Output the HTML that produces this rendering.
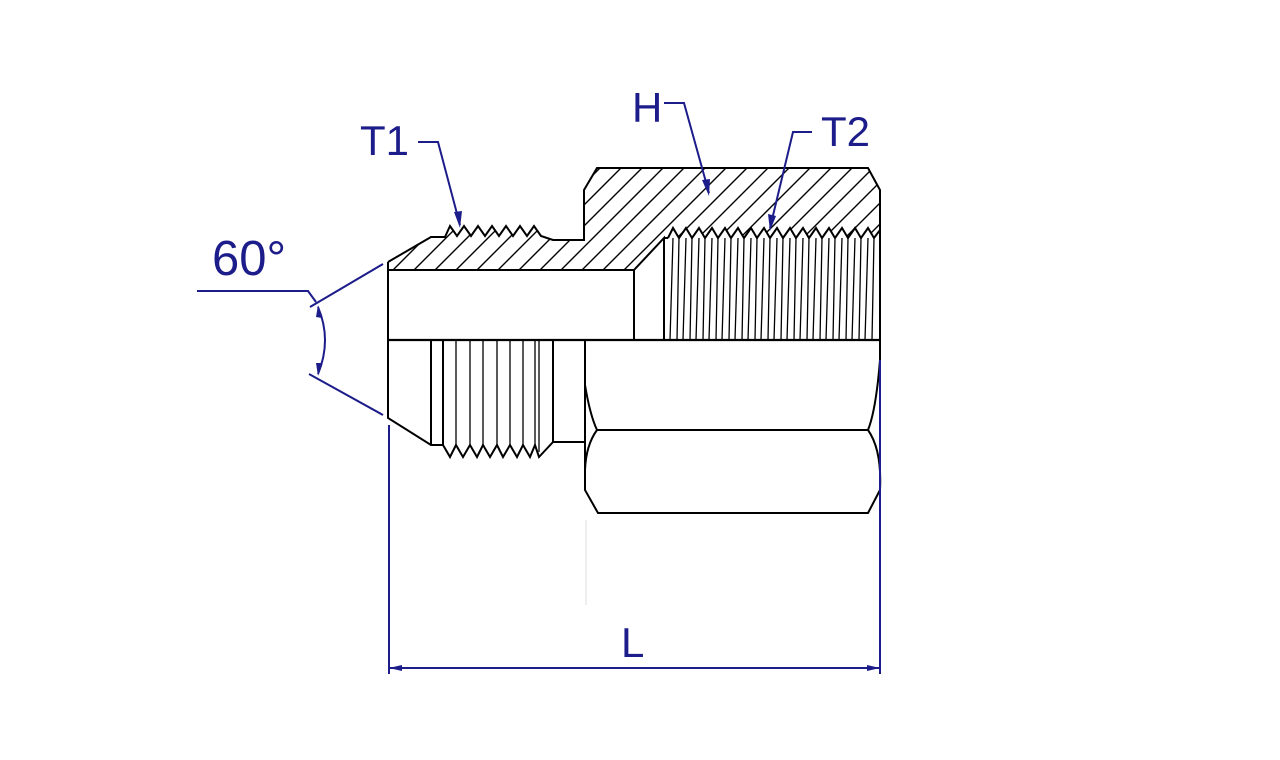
<!DOCTYPE html>
<html><head><meta charset="utf-8"><style>
html,body{margin:0;padding:0;background:#fff;width:1280px;height:760px;overflow:hidden}
svg{display:block}
text{font-family:"Liberation Sans",sans-serif;fill:#1c1c8a}
</style></head><body>
<svg width="1280" height="760" viewBox="0 0 1280 760" xmlns="http://www.w3.org/2000/svg">
<defs>
<clipPath id="hc">
<path d="M388,262 L431,237 L445,237 L450,226 L457,236 L464,226 L471,236 L478,226 L485,236 L492,226 L499,236 L506,226 L513,236 L520,226 L527,236 L534,226 L541,236 L553,240 L584,240 L584,190 L597,168 L868,168 L880,190 L880,230 L874,238 L868,228 L861,238 L855,228 L848,238 L842,228 L835,238 L829,228 L822,238 L816,228 L809,238 L803,228 L796,238 L790,228 L783,238 L777,228 L770,238 L764,228 L757,238 L751,228 L744,238 L738,228 L731,238 L725,228 L718,238 L712,228 L705,238 L699,228 L692,238 L686,228 L679,238 L673,228 L668,238 L664,238 L634,270 L388,270 Z"/>
</clipPath>
</defs>
<g stroke="#000" stroke-width="1.4" fill="none" clip-path="url(#hc)">
<path d="M300,300 l140,-140 M321,300 l140,-140 M342,300 l140,-140 M363,300 l140,-140 M384,300 l140,-140 M405,300 l140,-140 M426,300 l140,-140 M447,300 l140,-140 M468,300 l140,-140 M489,300 l140,-140 M510,300 l140,-140 M531,300 l140,-140 M552,300 l140,-140 M573,300 l140,-140 M594,300 l140,-140 M615,300 l140,-140 M636,300 l140,-140 M657,300 l140,-140 M678,300 l140,-140 M699,300 l140,-140 M720,300 l140,-140 M741,300 l140,-140 M762,300 l140,-140 M783,300 l140,-140 M804,300 l140,-140 M825,300 l140,-140 M846,300 l140,-140 M867,300 l140,-140"/>
</g>
<g stroke="#000" stroke-width="2" fill="none" stroke-linejoin="miter">
<path d="M388,262 L431,237 L445,237 L450,226 L457,236 L464,226 L471,236 L478,226 L485,236 L492,226 L499,236 L506,226 L513,236 L520,226 L527,236 L534,226 L541,236 L553,240 L584,240 L584,190 L597,168 L868,168 L880,190 L880,340"/>
<path d="M388,262 L388,418 L431,445 L443,445"/>
<path d="M388,270 L634,270 L634,340"/>
<path d="M634,270 L664,238 L664,340 M664,238 L668,238"/>
<path d="M880,230 L874,238 L868,228 L861,238 L855,228 L848,238 L842,228 L835,238 L829,228 L822,238 L816,228 L809,238 L803,228 L796,238 L790,228 L783,238 L777,228 L770,238 L764,228 L757,238 L751,228 L744,238 L738,228 L731,238 L725,228 L718,238 L712,228 L705,238 L699,228 L692,238 L686,228 L679,238 L673,228 L668,238"/>
<path d="M388,340 L880,340" stroke-width="2.2"/>
<path d="M431,340 L431,445 M443,340 L443,445 L450,457 L456,445 L463,457 L470,445 L477,457 L483,445 L490,457 L497,445 L503,457 L510,445 L517,457 L523,445 L530,457 L535,445 L539,457 L553,442 L553,340"/>
<path d="M553,442 L585,442 M585,340 L585,490 L598,513 L868,513 L880,490 L880,340"/>
<path d="M597,430 L868,430"/>
<path d="M585,385 Q590,415 597,430 Q586,445 585,470"/>
<path d="M880,360 Q876,410 868,430 Q882,450 880,490"/>
</g>
<g stroke="#000" stroke-width="1.3" fill="none">
<path d="M456,340V445 M470,340V445 M483,340V445 M497,340V445 M510,340V445 M523,340V445 M535,340V445 M539,340V452"/>
<path d="M673,238L670,340 M679,238L677,340 M686,238L683,340 M692,238L690,340 M699,238L696,340 M705,238L703,340 M712,238L709,340 M718,238L716,340 M725,238L722,340 M731,238L729,340 M738,238L735,340 M744,238L742,340 M751,238L748,340 M757,238L755,340 M764,238L761,340 M770,238L768,340 M777,238L774,340 M783,238L781,340 M790,238L787,340 M796,238L794,340 M803,238L800,340 M809,238L807,340 M816,238L813,340 M822,238L820,340 M829,238L826,340 M835,238L833,340 M842,238L839,340 M848,238L846,340 M855,238L852,340 M861,238L859,340 M868,238L865,340 M874,238L872,340"/>
</g>
<line x1="586" y1="520" x2="586" y2="605" stroke="#ddd" stroke-width="1"/>
<g stroke="#1c1c8a" stroke-width="2" fill="none">
<path d="M389,425 L389,674 M880,360 L880,674 M389,668 L880,668"/>
<path d="M197,291 L308,291 L316,302 M310,307 L383,264 M309,374 L383,415"/>
<path d="M318,307 Q332,340 318,374"/>
<path d="M418,142 L438,142 L460,225 M664,103 L684,103 L709,193 M812,132 L793,132 L770,228"/>
</g>
<g fill="#1c1c8a">
<path d="M460,228 L454,212 L462,211 Z"/>
<path d="M709,196 L702,180 L710,179 Z"/>
<path d="M770,231 L768,214 L776,216 Z"/>
<path d="M389,668 L402,665 L402,671 Z M880,668 L867,665 L867,671 Z"/>
<path d="M318,305 L322,318 L316,317 Z M318,376 L316,363 L322,363 Z"/>
</g>
<text x="212" y="275" font-size="49">60°</text>
<text x="360" y="155" font-size="42">T1</text>
<text x="632" y="122" font-size="42">H</text>
<text x="821" y="146" font-size="42">T2</text>
<text x="621" y="657" font-size="42">L</text>
</svg>
</body></html>
